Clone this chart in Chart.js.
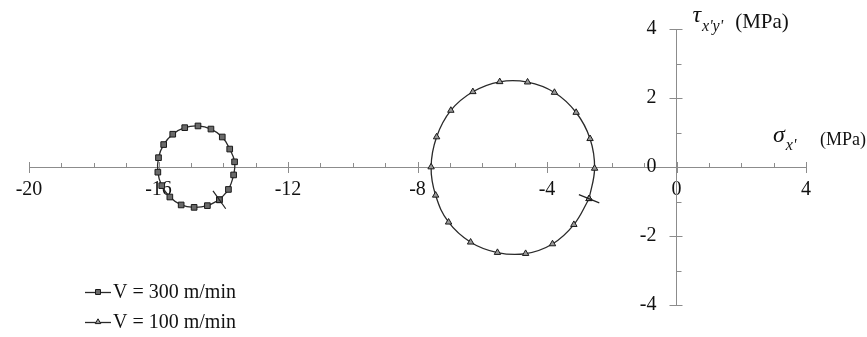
<!DOCTYPE html>
<html>
<head>
<meta charset="utf-8">
<script src="https://cdn.jsdelivr.net/npm/chart.js@4/dist/chart.umd.min.js"></script>
<style>
  html, body { margin: 0; padding: 0; background: #fff; }
  canvas { display: block; }
</style>
</head>
<body>
<canvas id="c" width="867" height="337"></canvas>
<script>
// Mohr's circles of stress for two cutting speeds
const seriesLabels = ['V = 300 m/min', 'V = 100 m/min'];

// V = 300 m/min : normal stress σx' and shear stress τx'y' (MPa)
const sigma300 = [-14.12, -13.84, -13.68, -13.65, -13.80, -14.03, -14.38, -14.78, -15.19, -15.56, -15.84, -16.00, -16.02, -15.90, -15.65, -15.30, -14.90, -14.49, -14.12];
const tau300   = [-0.95, -0.65, -0.23, 0.15, 0.52, 0.87, 1.10, 1.19, 1.14, 0.95, 0.65, 0.27, -0.15, -0.54, -0.87, -1.10, -1.17, -1.12, -0.95];

// V = 100 m/min
const sigma100 = [-2.70, -2.53, -2.67, -3.10, -3.77, -4.60, -5.46, -6.29, -6.97, -7.41, -7.58, -7.44, -7.04, -6.36, -5.53, -4.66, -3.83, -3.17, -2.70];
const tau100   = [-0.92, -0.04, 0.82, 1.58, 2.16, 2.46, 2.47, 2.18, 1.64, 0.87, 0.00, -0.82, -1.60, -2.18, -2.48, -2.51, -2.23, -1.67, -0.92];

// axis tick values
const xTicks = [-20, -16, -12, -8, -4, 0, 4];
const yTicks = [-4, -2, 0, 2, 4];

const SERIF = "'Liberation Serif', 'Times New Roman', serif";
const AXIS_COLOR = '#8c8c8c';

function toPoints(xs, ys) { return xs.map((x, i) => ({ x: x, y: ys[i] })); }

// Major ticks crossing the axes, minor ticks on one side
const axisTicks = {
  id: 'axisTicks',
  beforeDatasetsDraw(chart) {
    const { ctx, scales: { x, y } } = chart;
    const y0 = y.getPixelForValue(0);
    const x0 = x.getPixelForValue(0);
    ctx.save();
    ctx.strokeStyle = AXIS_COLOR;
    ctx.lineWidth = 1;
    ctx.beginPath();
    for (let v = x.min; v <= x.max; v += 1) {
      const px = Math.round(x.getPixelForValue(v)) + 0.5;
      if (v % 4 === 0) { ctx.moveTo(px, y0 - 5); ctx.lineTo(px, y0 + 6); }
      else { ctx.moveTo(px, y0 - 4); ctx.lineTo(px, y0); }
    }
    for (let v = y.min; v <= y.max; v += 1) {
      const py = Math.round(y.getPixelForValue(v)) + 0.5;
      if (v % 2 === 0) { ctx.moveTo(x0 - 7, py); ctx.lineTo(x0 + 6, py); }
      else { ctx.moveTo(x0, py); ctx.lineTo(x0 + 5, py); }
    }
    ctx.stroke();
    ctx.restore();
  }
};

// Short radial stroke through the starting state of each circle
const startMark = {
  id: 'startMark',
  afterDatasetsDraw(chart) {
    const { ctx } = chart;
    ctx.save();
    ctx.strokeStyle = '#222';
    ctx.lineWidth = 1.2;
    chart.data.datasets.forEach((ds, i) => {
      const pts = chart.getDatasetMeta(i).data;
      let cx = 0, cy = 0;
      const n = pts.length - 1;
      for (let k = 0; k < n; k++) { cx += pts[k].x; cy += pts[k].y; }
      cx /= n; cy /= n;
      const p = pts[0];
      const dx = p.x - cx, dy = p.y - cy;
      const len = Math.hypot(dx, dy) || 1;
      const ux = dx / len, uy = dy / len;
      ctx.beginPath();
      ctx.moveTo(p.x - 11 * ux, p.y - 11 * uy);
      ctx.lineTo(p.x + 11 * ux, p.y + 11 * uy);
      ctx.stroke();
    });
    ctx.restore();
  }
};

// Axis titles written with Greek symbols and primed subscripts
const axisTitles = {
  id: 'axisTitles',
  afterDraw(chart) {
    const { ctx, scales: { x, y } } = chart;
    const xEnd = x.getPixelForValue(x.max);
    const y0 = y.getPixelForValue(0);
    const x0 = x.getPixelForValue(0);
    const yTop = y.getPixelForValue(y.max);
    ctx.save();
    ctx.fillStyle = '#111';
    ctx.textBaseline = 'alphabetic';
    ctx.textAlign = 'left';
    // σx' (MPa)
    let px = xEnd - 33, py = y0 - 25;
    ctx.font = 'italic 24px ' + SERIF;
    ctx.fillText('σ', px, py);
    px += ctx.measureText('σ').width + 1;
    ctx.font = 'italic 16px ' + SERIF;
    ctx.fillText("x'", px, py + 8);
    ctx.font = '18px ' + SERIF;
    ctx.fillText('(MPa)', xEnd + 14, py + 3);
    // τx'y' (MPa)
    px = x0 + 16; py = yTop - 7;
    ctx.font = 'italic 24px ' + SERIF;
    ctx.fillText('τ', px, py);
    px += ctx.measureText('τ').width + 1;
    ctx.font = 'italic 16px ' + SERIF;
    ctx.fillText("x'y'", px, py + 9);
    px += ctx.measureText("x'y'").width + 12;
    ctx.font = '21px ' + SERIF;
    ctx.fillText('(MPa)', px, py + 6);
    ctx.restore();
  }
};

// Legend in the lower-left corner of the plot
const cornerLegend = {
  id: 'cornerLegend',
  afterDraw(chart) {
    const { ctx } = chart;
    const left = 85, lineLen = 26, top = 292, rowGap = 30;
    ctx.save();
    chart.data.datasets.forEach((ds, i) => {
      const cy = top + i * rowGap;
      ctx.strokeStyle = ds.borderColor;
      ctx.lineWidth = 1.3;
      ctx.beginPath();
      ctx.moveTo(left, cy + 0.5);
      ctx.lineTo(left + lineLen, cy + 0.5);
      ctx.stroke();
      ctx.fillStyle = ds.pointBackgroundColor;
      ctx.strokeStyle = ds.pointBorderColor;
      ctx.lineWidth = 1;
      Chart.helpers.drawPoint(ctx, {
        pointStyle: ds.pointStyle,
        radius: ds.pointRadius - 0.5,
        rotation: 0,
        borderWidth: 1
      }, left + lineLen / 2, cy);
      ctx.fillStyle = '#111';
      ctx.font = '20px ' + SERIF;
      ctx.textBaseline = 'middle';
      ctx.textAlign = 'left';
      ctx.fillText(ds.label, left + lineLen + 2, cy + 1);
    });
    ctx.restore();
  }
};

function setTicks(values) {
  return function (scale) { scale.ticks = values.map(v => ({ value: v })); };
}

new Chart(document.getElementById('c'), {
  type: 'scatter',
  data: {
    datasets: [
      {
        label: seriesLabels[0],
        data: toPoints(sigma300, tau300),
        showLine: true,
        tension: 0.4,
        borderColor: '#2a2a2a',
        borderWidth: 1.3,
        pointStyle: 'rect',
        pointRadius: 4,
        pointBorderWidth: 1,
        pointBorderColor: '#1a1a1a',
        pointBackgroundColor: '#6a6a6a'
      },
      {
        label: seriesLabels[1],
        data: toPoints(sigma100, tau100),
        showLine: true,
        tension: 0.4,
        borderColor: '#2a2a2a',
        borderWidth: 1.3,
        pointStyle: 'triangle',
        pointRadius: 3.7,
        pointBorderWidth: 1,
        pointBorderColor: '#1a1a1a',
        pointBackgroundColor: '#9a9a9a'
      }
    ]
  },
  options: {
    responsive: false,
    devicePixelRatio: 1,
    animation: false,
    layout: { padding: { left: 29, right: 61, top: 29, bottom: 32 } },
    plugins: { legend: { display: false }, tooltip: { enabled: false } },
    scales: {
      x: {
        type: 'linear',
        min: -20, max: 4,
        position: { y: 0 },
        afterBuildTicks: setTicks(xTicks),
        grid: { display: false, drawTicks: false },
        border: { display: true, color: AXIS_COLOR, width: 1 },
        ticks: { color: '#111', font: { family: SERIF, size: 20 }, padding: 11, maxRotation: 0 }
      },
      y: {
        type: 'linear',
        min: -4, max: 4,
        position: { x: 0 },
        afterBuildTicks: setTicks(yTicks),
        grid: { display: false, drawTicks: false },
        border: { display: true, color: AXIS_COLOR, width: 1 },
        // labels sit one em to the left of the axis line
        ticks: { color: '#111', font: { family: SERIF, size: 20 }, callback: v => v + '\u2003' }
      }
    }
  },
  plugins: [axisTicks, startMark, axisTitles, cornerLegend]
});
</script>
</body>
</html>
